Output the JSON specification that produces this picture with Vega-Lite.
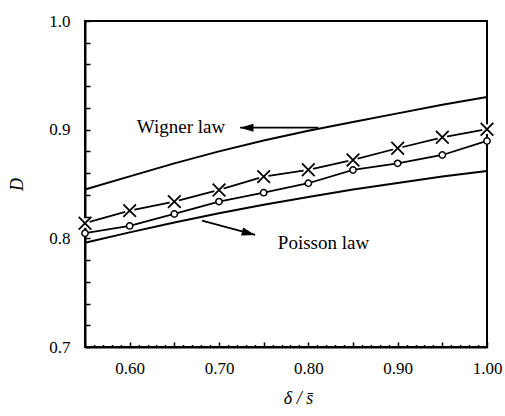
{
  "$schema": "https://vega.github.io/schema/vega-lite/v6.json",
  "width": 402,
  "height": 326,
  "autosize": {"type": "none"},
  "padding": {"left": 85, "top": 21, "right": 18, "bottom": 69},
  "background": "white",
  "config": {
    "view": {"stroke": "black", "strokeWidth": 2},
    "font": "Liberation Serif",
    "axis": {
      "domainColor": "black", "domainWidth": 2, "tickColor": "black", "tickWidth": 1.5,
      "grid": false, "labelFont": "Liberation Serif", "labelFontSize": 17, "labelColor": "black",
      "labelOverlap": false, "labelFlush": false,
      "titleFont": "Liberation Serif", "titleFontSize": 18, "titleFontStyle": "italic", "titleFontWeight": "normal", "titleColor": "black"
    }
  },
  "datasets": {
    "curves": [
      {"series": "Wigner", "x": 0.55, "y": 0.845},
      {"series": "Wigner", "x": 0.60, "y": 0.857},
      {"series": "Wigner", "x": 0.65, "y": 0.869},
      {"series": "Wigner", "x": 0.70, "y": 0.880},
      {"series": "Wigner", "x": 0.75, "y": 0.890},
      {"series": "Wigner", "x": 0.80, "y": 0.899},
      {"series": "Wigner", "x": 0.85, "y": 0.907},
      {"series": "Wigner", "x": 0.90, "y": 0.915},
      {"series": "Wigner", "x": 0.95, "y": 0.923},
      {"series": "Wigner", "x": 1.00, "y": 0.930},
      {"series": "Poisson", "x": 0.55, "y": 0.796},
      {"series": "Poisson", "x": 0.60, "y": 0.8055},
      {"series": "Poisson", "x": 0.65, "y": 0.8145},
      {"series": "Poisson", "x": 0.70, "y": 0.823},
      {"series": "Poisson", "x": 0.75, "y": 0.831},
      {"series": "Poisson", "x": 0.80, "y": 0.838},
      {"series": "Poisson", "x": 0.85, "y": 0.845},
      {"series": "Poisson", "x": 0.90, "y": 0.851},
      {"series": "Poisson", "x": 0.95, "y": 0.857},
      {"series": "Poisson", "x": 1.00, "y": 0.862}
    ],
    "points": [
      {"series": "X", "x": 0.55, "y": 0.8139},
      {"series": "X", "x": 0.60, "y": 0.8255},
      {"series": "X", "x": 0.65, "y": 0.8338},
      {"series": "X", "x": 0.70, "y": 0.8445},
      {"series": "X", "x": 0.75, "y": 0.8568},
      {"series": "X", "x": 0.80, "y": 0.8631},
      {"series": "X", "x": 0.85, "y": 0.8721},
      {"series": "X", "x": 0.90, "y": 0.8829},
      {"series": "X", "x": 0.95, "y": 0.8930},
      {"series": "X", "x": 1.00, "y": 0.9004},
      {"series": "O", "x": 0.55, "y": 0.8047},
      {"series": "O", "x": 0.60, "y": 0.8114},
      {"series": "O", "x": 0.65, "y": 0.8224},
      {"series": "O", "x": 0.70, "y": 0.8338},
      {"series": "O", "x": 0.75, "y": 0.8420},
      {"series": "O", "x": 0.80, "y": 0.8507},
      {"series": "O", "x": 0.85, "y": 0.8629},
      {"series": "O", "x": 0.90, "y": 0.8690},
      {"series": "O", "x": 0.95, "y": 0.8767},
      {"series": "O", "x": 1.00, "y": 0.8896}
    ],
    "arrows": [
      {"name": "Wigner", "x": 0.811, "y": 0.9018, "x2": 0.7236, "y2": 0.9018},
      {"name": "Poisson", "x": 0.681, "y": 0.8163, "x2": 0.7404, "y2": 0.8031}
    ],
    "labels": [
      {"text": "Wigner law", "x": 0.6575, "y": 0.902},
      {"text": "Poisson law", "x": 0.817, "y": 0.7958}
    ]
  },
  "layer": [
    {
      "data": {"name": "points"},
      "transform": [{"filter": "datum.series === 'X'"}],
      "mark": {"type": "line", "color": "black", "strokeWidth": 1.8},
      "encoding": {
        "x": {"field": "x", "type": "quantitative",
          "scale": {"domain": [0.55, 1.0], "nice": false, "zero": false},
          "axis": {
            "title": "δ / s̄",
            "tickCount": 200,
            "values": [0.55,0.56,0.57,0.58,0.59,0.60,0.61,0.62,0.63,0.64,0.65,0.66,0.67,0.68,0.69,0.70,0.71,0.72,0.73,0.74,0.75,0.76,0.77,0.78,0.79,0.80,0.81,0.82,0.83,0.84,0.85,0.86,0.87,0.88,0.89,0.90,0.91,0.92,0.93,0.94,0.95,0.96,0.97,0.98,0.99,1.00],
            "labelExpr": "abs(datum.value*10 - round(datum.value*10)) < 0.001 ? format(datum.value, '.2f') : ''",
            "labelOverlap": false,
            "tickSize": {"condition": {"test": "abs(datum.value*20 - round(datum.value*20)) < 0.001", "value": -5}, "value": -2.5},
            "labelPadding": 18,
            "titlePadding": 11,
            "titleX": 213
          }
        },
        "y": {"field": "y", "type": "quantitative",
          "scale": {"domain": [0.7, 1.0], "nice": false, "zero": false},
          "axis": {
            "title": "D",
            "tickCount": 200,
            "values": [0.70,0.72,0.74,0.76,0.78,0.80,0.82,0.84,0.86,0.88,0.90,0.92,0.94,0.96,0.98,1.00],
            "labelExpr": "abs(datum.value*10 - round(datum.value*10)) < 0.001 ? format(datum.value, '.1f') : ''",
            "labelOverlap": false,
            "tickSize": -5,
            "labelPadding": 20,
            "titlePadding": 22
          }
        }
      }
    },
    {
      "data": {"name": "points"},
      "transform": [{"filter": "datum.series === 'X'"}],
      "mark": {"type": "point", "shape": "circle", "filled": true, "color": "white", "opacity": 1, "size": 95},
      "encoding": {"x": {"field": "x", "type": "quantitative"}, "y": {"field": "y", "type": "quantitative"}}
    },
    {
      "data": {"name": "curves"},
      "mark": {"type": "line", "color": "black", "strokeWidth": 2},
      "encoding": {"x": {"field": "x", "type": "quantitative"}, "y": {"field": "y", "type": "quantitative"}, "detail": {"field": "series"}}
    },
    {
      "data": {"name": "points"},
      "transform": [{"filter": "datum.series === 'O'"}],
      "mark": {"type": "line", "color": "black", "strokeWidth": 1.8},
      "encoding": {"x": {"field": "x", "type": "quantitative"}, "y": {"field": "y", "type": "quantitative"}}
    },
    {
      "data": {"name": "points"},
      "transform": [{"filter": "datum.series === 'O'"}],
      "mark": {"type": "point", "shape": "circle", "filled": false, "fill": "white", "fillOpacity": 1, "stroke": "black", "strokeWidth": 1.5, "opacity": 1, "size": 40},
      "encoding": {"x": {"field": "x", "type": "quantitative"}, "y": {"field": "y", "type": "quantitative"}}
    },
    {
      "data": {"name": "points"},
      "transform": [{"filter": "datum.series === 'X'"}],
      "mark": {"type": "point", "shape": "M-1,-1L1,1M-1,1L1,-1", "filled": false, "stroke": "black", "strokeWidth": 1.8, "opacity": 1, "size": 160},
      "encoding": {"x": {"field": "x", "type": "quantitative"}, "y": {"field": "y", "type": "quantitative"}}
    },
    {
      "data": {"name": "arrows"},
      "mark": {"type": "rule", "color": "black", "strokeWidth": 1.8},
      "encoding": {"x": {"field": "x", "type": "quantitative"}, "y": {"field": "y", "type": "quantitative"}, "x2": {"field": "x2"}, "y2": {"field": "y2"}}
    },
    {
      "data": {"name": "arrows"},
      "transform": [{"filter": "datum.name === 'Wigner'"}],
      "mark": {"type": "point", "shape": "M0,0L-2,-0.6L-2,0.6Z", "filled": true, "color": "black", "opacity": 1, "size": 180, "angle": 180},
      "encoding": {"x": {"field": "x2", "type": "quantitative"}, "y": {"field": "y2", "type": "quantitative"}}
    },
    {
      "data": {"name": "arrows"},
      "transform": [{"filter": "datum.name === 'Poisson'"}],
      "mark": {"type": "point", "shape": "M0,0L-2,-0.6L-2,0.6Z", "filled": true, "color": "black", "opacity": 1, "size": 180, "angle": 15},
      "encoding": {"x": {"field": "x2", "type": "quantitative"}, "y": {"field": "y2", "type": "quantitative"}}
    },
    {
      "data": {"name": "labels"},
      "mark": {"type": "text", "font": "Liberation Serif", "fontSize": 19, "color": "black", "align": "center", "baseline": "middle"},
      "encoding": {"x": {"field": "x", "type": "quantitative"}, "y": {"field": "y", "type": "quantitative"}, "text": {"field": "text"}}
    }
  ]
}
